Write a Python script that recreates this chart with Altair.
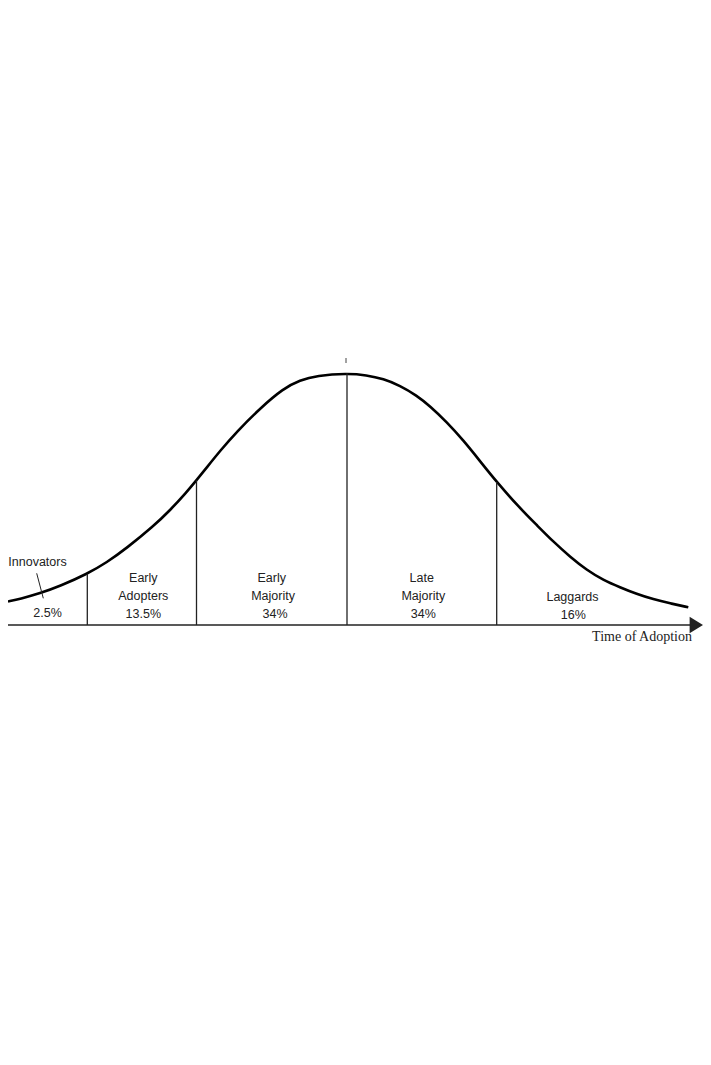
import pandas as pd
import altair as alt

# Bell curve: time (px from the mean) and height above the baseline
curve_t = [-339, -327, -307, -287, -259.7, -240.3, -220.3, -193.7, -177, -160.3, -150.3,
           -140.3, -127, -110.3, -87, -63.7, -47, -30.3, 0, 19.7, 36.3, 53, 69.7, 83,
           99.7, 116.3, 133, 149.7, 173, 189.7, 206.3, 223, 239.7, 256.3, 273, 289.7,
           306.3, 323, 341.3]
curve_h = [23.5, 26.1, 31.7, 38.9, 51.2, 62.5, 76.9, 98.7, 114.6, 133, 145, 157.5, 174.1,
           193.3, 216.6, 236.5, 244.8, 249.3, 251.7, 249.9, 246.2, 239.5, 229.5, 218.9, 203,
           184.7, 163.9, 143, 116.7, 100, 83.3, 68.3, 55, 45, 37.7, 31, 25.7, 21.7, 17.7]

# Category boundaries (vertical lines) and where they meet the curve
bound_t = [-259.7, -150.5, 0, 149.7]
bound_h = [51.2, 144.7, 251.7, 143]

# Label lines
label_text = ["Innovators", "2.5%", "Early", "Adopters", "13.5%", "Early", "Majority", "34%",
              "Late", "Majority", "34%", "Laggards", "16%"]
label_t = [-309.5, -299.5, -203.7, -203.7, -203.7, -75.3, -74, -72, 74.7, 76.3, 76.3, 225.5, 226.3]
label_h = [63.3, 11.7, 47, 29.5, 11.5, 47, 29.5, 11.5, 47, 29.5, 11, 28.3, 10]

x_scale = alt.Scale(domain=[-339, 356])
y_scale = alt.Scale(domain=[-83, 617])
no_axis = None

curve = pd.DataFrame({"t": curve_t, "h": curve_h})
bounds = pd.DataFrame({"t": bound_t, "h": bound_h, "base": [0] * len(bound_t)})
labels = pd.DataFrame({"text": label_text, "t": label_t, "h": label_h})
baseline = pd.DataFrame({"t": [-339], "t2": [346], "h": [0]})
arrow = pd.DataFrame({"t": [349.3], "h": [0]})
leader = pd.DataFrame({"t": [-310.3], "t2": [-303.7], "h": [51.7], "h2": [26.7]})
peak_tick = pd.DataFrame({"t": [-1], "h": [267], "h2": [262]})
axis_title = pd.DataFrame({"text": ["Time of Adoption"], "t": [295], "h": [-11.7]})

X = lambda f: alt.X(f, type="quantitative", scale=x_scale, axis=no_axis)
Y = lambda f: alt.Y(f, type="quantitative", scale=y_scale, axis=no_axis)

bell = alt.Chart(curve).mark_line(color="black", strokeWidth=2.6, interpolate="basis").encode(
    x=X("t"), y=Y("h")
)

dividers = alt.Chart(bounds).mark_rule(color="#222", strokeWidth=1.3).encode(
    x=X("t"), y=Y("base"), y2="h"
)

base_rule = alt.Chart(baseline).mark_rule(color="#222", strokeWidth=1.5).encode(
    x=X("t"), x2="t2", y=Y("h")
)

arrow_head = alt.Chart(arrow).mark_point(
    shape="M-0.8,-1L0.8,0L-0.8,1Z", size=280, filled=True, color="#222", opacity=1
).encode(x=X("t"), y=Y("h"))

leader_line = alt.Chart(leader).mark_rule(color="#222", strokeWidth=1).encode(
    x=X("t"), x2="t2", y=Y("h"), y2="h2"
)

tick = alt.Chart(peak_tick).mark_rule(color="#444", strokeWidth=1).encode(
    x=X("t"), y=Y("h"), y2="h2"
)

text = alt.Chart(labels).mark_text(
    font="Liberation Sans", fontSize=12.5, color="#222", align="center", baseline="middle"
).encode(x=X("t"), y=Y("h"), text="text")

title_text = alt.Chart(axis_title).mark_text(
    font="Liberation Serif", fontSize=14, color="#222", align="center", baseline="middle"
).encode(x=X("t"), y=Y("h"), text="text")

chart = (bell + dividers + base_rule + arrow_head + leader_line + tick + text + title_text).properties(
    width=695, height=700, padding=0, autosize=alt.AutoSizeParams(type="none"), background="white"
).configure_view(stroke=None)

chart.save("out.html", embed_options={"renderer": "svg", "actions": False})
